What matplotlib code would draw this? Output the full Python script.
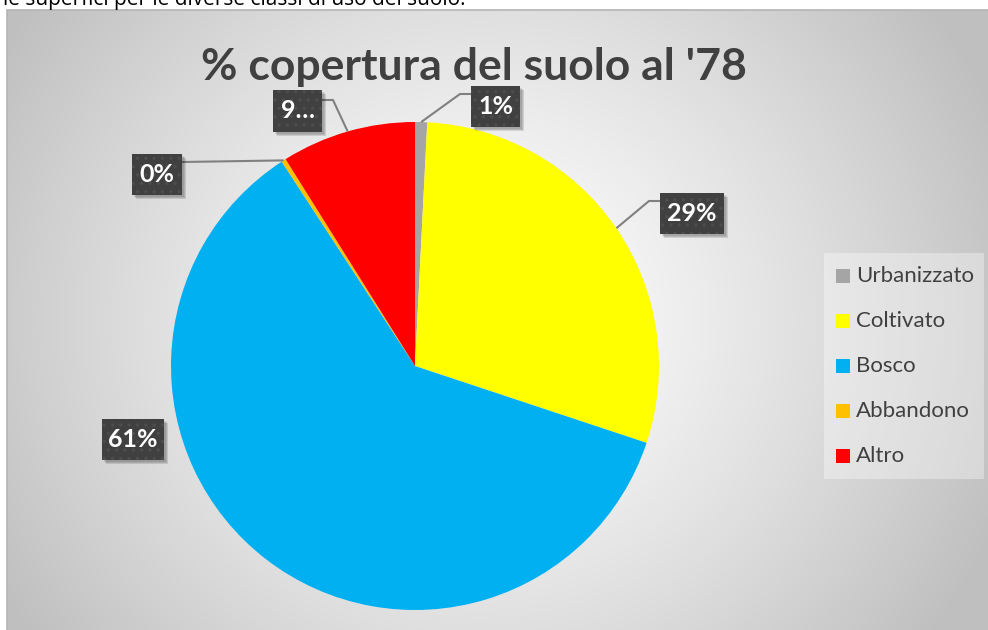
import matplotlib
matplotlib.use('Agg')

import numpy as np
import matplotlib.pyplot as plt
from matplotlib.patches import Rectangle

# data
categories = ['Urbanizzato', 'Coltivato', 'Bosco', 'Abbandono', 'Altro']
values = [0.8, 29.3, 60.7, 0.3, 8.9]
label_texts = ['1%', '29%', '61%', '0%', '9…']
colors = ['#A5A5A5', '#FFFF00', '#00B0F0', '#FFC000', '#FF0000']
title = "% copertura del suolo al '78"

W, H = 988, 630
def Y(y):
    # image row -> data y (pixel units, y up)
    return H - y

plt.rcParams['hatch.linewidth'] = 1.2

fig = plt.figure(figsize=(W / 100, H / 100), dpi=100)
fig.patch.set_facecolor('white')
ax = fig.add_axes([0, 0, 1, 1])

# chart area with radial gradient
x0, x1, ytop = 7, W + 2, 10
gx, gy = np.meshgrid(np.linspace(x0, x1, 400), np.linspace(ytop, H, 300))
cx, cy = 480, 320
r = np.hypot(gx - cx, (gy - cy) * 1.05)
r = np.clip(r / 560.0, 0, 1)
shade = 1.0 - 0.25 * r ** 1.3
img = np.dstack([shade, shade, shade])
ax.imshow(img, extent=(x0, x1, Y(H), Y(ytop)), origin='upper', zorder=0,
          interpolation='bilinear')
ax.add_patch(Rectangle((x0, Y(H) - 2), x1 - x0, H - ytop + 2, fill=False,
                       edgecolor='#b4b4b4', lw=1.2, zorder=1))

# text of the page above the chart, cut off at the top as in the screenshot
ax.text(3, Y(5), 'le superfici per le diverse classi di uso del suolo.',
        fontsize=15, family='Open Sans', color='black', va='baseline',
        ha='left', zorder=2)

center = (415, Y(366))
radius = 244
wedges, _ = ax.pie(values, colors=colors, startangle=90, counterclock=False,
                   center=center, radius=radius, frame=True,
                   wedgeprops=dict(linewidth=0))
for w in wedges:
    w.set_zorder(3)

ax.text(474, Y(67), title, fontsize=32, fontweight='bold', family='Lato',
        color='#404040', ha='center', va='center', zorder=4)

# data label boxes (x0, x1, y0, y1 in image rows) and elbow points
boxes = [(471, 520, 86, 127), (660, 724, 193, 234), (102, 164, 419, 460),
         (132, 182, 154, 195), (273, 322, 90, 132)]
elbows = [[(460, 94), (471, 94)], [(649, 201), (660, 201)], None,
          [(182, 162)], [(333, 100), (322, 100)]]

for w, txt, b, el in zip(wedges, label_texts, boxes, elbows):
    th = np.radians((w.theta1 + w.theta2) / 2)
    ax_x = center[0] + radius * np.cos(th)
    ax_y = center[1] + radius * np.sin(th)
    if el is not None:
        xs = [ax_x] + [p[0] for p in el]
        ys = [ax_y] + [Y(p[1]) for p in el]
        ax.plot(xs, ys, color='#808080', lw=1.5, zorder=4,
                solid_capstyle='butt')
    bx0, bx1, by0, by1 = b
    for k, a in enumerate([0.10, 0.10, 0.12]):
        off = 2 + k
        ax.add_patch(Rectangle((bx0 + off, Y(by1 + off)), bx1 - bx0,
                               by1 - by0, facecolor='black', alpha=a,
                               lw=0, zorder=5))
    ax.add_patch(Rectangle((bx0, Y(by1)), bx1 - bx0, by1 - by0,
                           facecolor='#404040', edgecolor='#404040',
                           lw=0, zorder=6))
    ax.add_patch(Rectangle((bx0, Y(by1)), bx1 - bx0, by1 - by0,
                           fill=False, hatch='..', edgecolor='#4d4d4d',
                           lw=0, zorder=6))
    ax.text((bx0 + bx1) / 2, Y((by0 + by1) / 2), txt, color='white',
            fontsize=18, fontweight='bold', family='Lato',
            ha='center', va='center', zorder=7)

# legend
ax.add_patch(Rectangle((824, Y(479)), 160, 226, facecolor='white',
                       alpha=0.35, lw=0, zorder=3))
for i, (cat, col) in enumerate(zip(categories, colors)):
    yc = Y(276 + 45 * i)
    ax.add_patch(Rectangle((836, yc - 7), 14, 14, facecolor=col, lw=0,
                           zorder=4))
    ax.text(856, yc, cat, fontsize=16, family='Lato', color='#404040',
            ha='left', va='center', zorder=4)

ax.set_xlim(0, W)
ax.set_ylim(0, H)
ax.set_aspect('auto')
ax.axis('off')

fig.savefig('out.png', dpi=100)
